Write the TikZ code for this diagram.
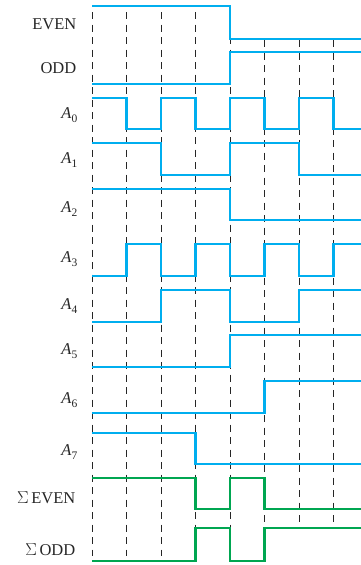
\documentclass[tikz,border=0pt]{standalone}
\usepackage{fontspec}
\setmainfont{Liberation Serif}
\definecolor{wblue}{HTML}{00AEEF}
\definecolor{wgreen}{HTML}{00A651}
\newcommand{\sublab}[1]{\textit{A}\raisebox{-4pt}{\fontsize{11.5}{12}\selectfont #1}}
\begin{document}
\begin{tikzpicture}[x=1pt,y=1pt,
  wave/.style={line width=2.8pt,color=wblue,line join=miter,line cap=butt},
  gwave/.style={wave,color=wgreen},
  grid/.style={line width=1pt,color=black!85,dash pattern=on 7pt off 5.5pt},
  lab/.style={anchor=base east,inner sep=0pt,text=black!85,font=\fontsize{16.5}{18}\selectfont}]
\useasboundingbox (0,0) rectangle (361,-565);
% dashed guide lines
\foreach \x in {92,126.5,161,195.5,230}
  \draw[grid] (\x,-12) -- (\x,-556);
\draw[grid] (264.5,-40) -- (264.5,-528);
\foreach \x in {299,333.5}
  \draw[grid] (\x,-40) -- (\x,-523);
% labels
\node[lab] (even) at (76.5,-29) {EVEN};
\node[lab] (odd) at (76.5,-73) {ODD};
\node[lab] (a0) at (77.5,-118) {\sublab{0}};
\node[lab] (a1) at (77.5,-163) {\sublab{1}};
\node[lab] (a2) at (77.5,-212) {\sublab{2}};
\node[lab] (a3) at (77.5,-262) {\sublab{3}};
\node[lab] (a4) at (77.5,-309) {\sublab{4}};
\node[lab] (a5) at (77.5,-354) {\sublab{5}};
\node[lab] (a6) at (77.5,-403) {\sublab{6}};
\node[lab] (a7) at (77.5,-455) {\sublab{7}};
\node[lab] (seven) at (75.5,-503) {$\Sigma$\,EVEN};
\node[lab] (sodd) at (75.5,-555) {$\Sigma$\,ODD};
% waveforms
\draw[wave] (92,-6) -- (230,-6) -- (230,-39) -- (361,-39);
\draw[wave] (92,-84) -- (230,-84) -- (230,-52) -- (361,-52);
\draw[wave] (92,-98) -- (126.5,-98) -- (126.5,-129) -- (161,-129) -- (161,-98) -- (195.5,-98) -- (195.5,-129) -- (230,-129) -- (230,-98) -- (264.5,-98) -- (264.5,-129) -- (299,-129) -- (299,-98) -- (333.5,-98) -- (333.5,-129) -- (361,-129);
\draw[wave] (92,-143) -- (161,-143) -- (161,-175) -- (230,-175) -- (230,-143) -- (299,-143) -- (299,-175) -- (361,-175);
\draw[wave] (92,-189) -- (230,-189) -- (230,-220) -- (361,-220);
\draw[wave] (92,-276) -- (126.5,-276) -- (126.5,-244) -- (161,-244) -- (161,-276) -- (195.5,-276) -- (195.5,-244) -- (230,-244) -- (230,-276) -- (264.5,-276) -- (264.5,-244) -- (299,-244) -- (299,-276) -- (333.5,-276) -- (333.5,-244) -- (361,-244);
\draw[wave] (92,-322) -- (161,-322) -- (161,-290) -- (230,-290) -- (230,-322) -- (299,-322) -- (299,-290) -- (361,-290);
\draw[wave] (92,-367) -- (230,-367) -- (230,-335) -- (361,-335);
\draw[wave] (92,-413) -- (264.5,-413) -- (264.5,-381) -- (361,-381);
\draw[wave] (92,-433) -- (195.5,-433) -- (195.5,-464) -- (361,-464);
\draw[gwave] (92,-478) -- (195.5,-478) -- (195.5,-509) -- (230,-509) -- (230,-478) -- (264.5,-478) -- (264.5,-509) -- (361,-509);
\draw[gwave] (92,-561) -- (195.5,-561) -- (195.5,-528) -- (230,-528) -- (230,-561) -- (264.5,-561) -- (264.5,-528) -- (361,-528);
\end{tikzpicture}
\end{document}
